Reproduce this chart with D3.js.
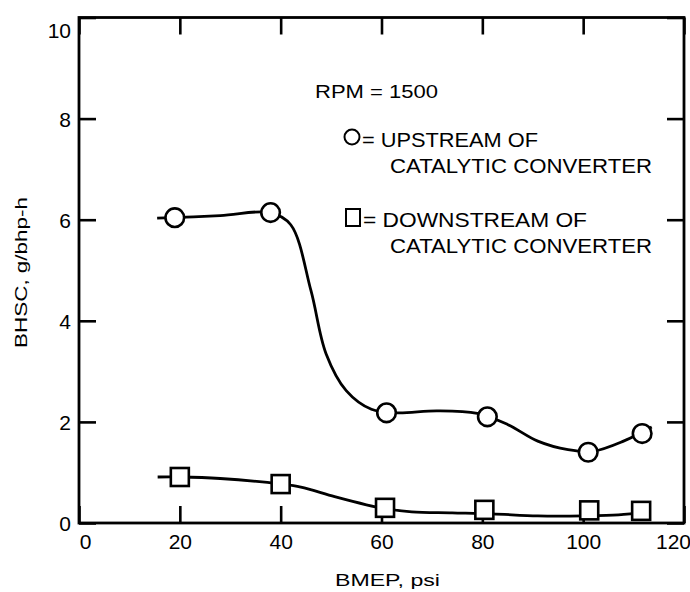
<!DOCTYPE html>
<html>
<head>
<meta charset="utf-8">
<script src="https://cdn.jsdelivr.net/npm/d3@7"></script>
<style>
  html, body { margin: 0; padding: 0; background: #fff; }
  svg { display: block; }
  text { font-family: "Liberation Sans", Arial, sans-serif; fill: #000; }
</style>
</head>
<body>
<svg id="chart" width="690" height="592"></svg>
<script>
// ---- data ----
const xTicks = [0, 20, 40, 60, 80, 100, 120];
const yTicks = [0, 2, 4, 6, 8, 10];

// measured points (markers)
const upstreamX   = [19, 38, 61, 81, 101, 111.7];
const upstreamY   = [6.04, 6.14, 2.18, 2.10, 1.40, 1.77];
const downstreamX = [20, 40, 60.7, 80.4, 101.2, 111.5];
const downstreamY = [0.91, 0.77, 0.30, 0.26, 0.25, 0.24];

// hand-faired curves drawn through the data
const upstreamCurveX = [15.5, 28, 38, 42, 46, 49, 53, 58, 63, 71, 79, 85, 91, 97, 102, 108, 113.6];
const upstreamCurveY = [6.03, 6.08, 6.14, 5.9, 4.6, 3.35, 2.62, 2.25, 2.18, 2.22, 2.17, 1.95, 1.62, 1.45, 1.42, 1.62, 1.9];
const downstreamCurveX = [15.6, 20, 28, 40, 44, 50.7, 57, 61, 66, 74, 82, 91, 100, 107, 112.5];
const downstreamCurveY = [0.91, 0.91, 0.88, 0.77, 0.71, 0.52, 0.36, 0.28, 0.22, 0.2, 0.18, 0.14, 0.14, 0.16, 0.22];

const rpmLabel = "RPM = 1500";
const legendUp = ["= UPSTREAM OF", "CATALYTIC CONVERTER"];
const legendDown = ["= DOWNSTREAM OF", "CATALYTIC CONVERTER"];
const xTitle = "BMEP, psi";
const yTitle = "BHSC, g/bhp-h";

// ---- layout ----
const L = 79, R = 684, T = 17.5, B = 523;
const svg = d3.select("#chart");
const x = d3.scaleLinear().domain([0, 120]).range([L, R]);
const y = d3.scaleLinear().domain([0, 10]).range([B, T]);
const tickLen = 17;

// frame
svg.append("rect")
  .attr("x", L).attr("y", T).attr("width", R - L).attr("height", B - T)
  .attr("fill", "none").attr("stroke", "#000").attr("stroke-width", 2.8);

// axes with inward ticks
const xAxis = svg.append("g").attr("transform", `translate(0,${B})`)
  .call(d3.axisBottom(x).tickValues(xTicks).tickSizeInner(-tickLen).tickSizeOuter(0).tickPadding(11).tickFormat(d3.format("d")));
const yAxis = svg.append("g").attr("transform", `translate(${L},0)`)
  .call(d3.axisLeft(y).tickValues(yTicks).tickSizeInner(-tickLen).tickSizeOuter(0).tickPadding(8).tickFormat(d3.format("d")));
const xTop = svg.append("g").attr("transform", `translate(0,${T})`)
  .call(d3.axisTop(x).tickValues(xTicks).tickSizeInner(-tickLen).tickSizeOuter(0).tickFormat(""));
const yRight = svg.append("g").attr("transform", `translate(${R},0)`)
  .call(d3.axisRight(y).tickValues(yTicks).tickSizeInner(-tickLen).tickSizeOuter(0).tickFormat(""));

[xAxis, yAxis, xTop, yRight].forEach(g => {
  g.select(".domain").remove();
  g.selectAll(".tick line").attr("stroke", "#000").attr("stroke-width", 2.6);
  g.selectAll(".tick text").attr("font-size", 21).attr("font-family", "Liberation Sans, Arial, sans-serif").attr("fill", "#000");
});
yAxis.selectAll(".tick text").attr("dy", (d) => d === 10 ? "0.95em" : "0.36em");
xAxis.selectAll(".tick text").attr("dx", (d) => d === 0 ? 6 : (d === 120 ? -11 : 0));

// axis titles
svg.append("text")
  .attr("x", 335).attr("y", 586)
  .attr("font-size", 17)
  .attr("textLength", 105).attr("lengthAdjust", "spacingAndGlyphs")
  .text(xTitle);
svg.append("text")
  .attr("transform", "translate(27,348) rotate(-90)")
  .attr("font-size", 16)
  .attr("textLength", 151).attr("lengthAdjust", "spacingAndGlyphs")
  .text(yTitle);

// curves
const line = d3.line().x(d => x(d[0])).y(d => y(d[1])).curve(d3.curveCatmullRom.alpha(0.5));
svg.append("path")
  .datum(upstreamCurveX.map((v, i) => [v, upstreamCurveY[i]]))
  .attr("d", line).attr("fill", "none").attr("stroke", "#000").attr("stroke-width", 2.8);
svg.append("path")
  .datum(downstreamCurveX.map((v, i) => [v, downstreamCurveY[i]]))
  .attr("d", line).attr("fill", "none").attr("stroke", "#000").attr("stroke-width", 2.8);

// markers
const sq = 18;
svg.append("g").selectAll("rect")
  .data(downstreamX.map((v, i) => [v, downstreamY[i]]))
  .join("rect")
  .attr("x", d => x(d[0]) - sq / 2).attr("y", d => y(d[1]) - sq / 2)
  .attr("width", sq).attr("height", sq)
  .attr("fill", "#fff").attr("stroke", "#000").attr("stroke-width", 2.6);
svg.append("g").selectAll("circle")
  .data(upstreamX.map((v, i) => [v, upstreamY[i]]))
  .join("circle")
  .attr("cx", d => x(d[0])).attr("cy", d => y(d[1])).attr("r", 9.3)
  .attr("fill", "#fff").attr("stroke", "#000").attr("stroke-width", 2.6);

// legend
svg.append("text").attr("x", 315).attr("y", 98).attr("font-size", 18)
  .attr("textLength", 123).attr("lengthAdjust", "spacingAndGlyphs").text(rpmLabel);

svg.append("circle").attr("cx", 352).attr("cy", 137).attr("r", 7.5)
  .attr("fill", "#fff").attr("stroke", "#000").attr("stroke-width", 2);
svg.append("text").attr("x", 362).attr("y", 147).attr("font-size", 21)
  .attr("textLength", 176).attr("lengthAdjust", "spacingAndGlyphs").text(legendUp[0]);
svg.append("text").attr("x", 390).attr("y", 173).attr("font-size", 21)
  .attr("textLength", 262).attr("lengthAdjust", "spacingAndGlyphs").text(legendUp[1]);

svg.append("rect").attr("x", 346).attr("y", 209).attr("width", 14).attr("height", 17)
  .attr("fill", "#fff").attr("stroke", "#000").attr("stroke-width", 2);
svg.append("text").attr("x", 363).attr("y", 227).attr("font-size", 21)
  .attr("textLength", 224).attr("lengthAdjust", "spacingAndGlyphs").text(legendDown[0]);
svg.append("text").attr("x", 390).attr("y", 253).attr("font-size", 21)
  .attr("textLength", 262).attr("lengthAdjust", "spacingAndGlyphs").text(legendDown[1]);
</script>
</body>
</html>
